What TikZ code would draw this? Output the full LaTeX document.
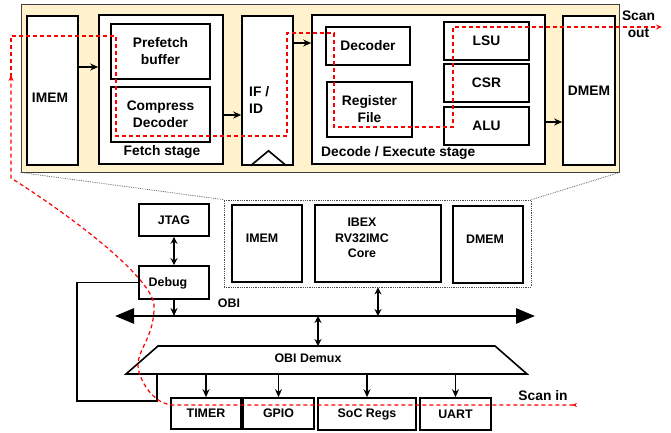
\documentclass[tikz,border=0pt]{standalone}
\usepackage{fontspec}
\setmainfont{Liberation Sans}
\usetikzlibrary{arrows.meta}
\definecolor{beige}{RGB}{255,242,204}
\definecolor{scanred}{RGB}{255,0,0}

\tikzset{
	blk/.style={draw, line width=1.6pt, fill=white, inner sep=0pt},
	sz/.style 2 args={minimum width=#1pt, minimum height=#2pt},
	bigtxt/.style={font=\bfseries\fontsize{13.8}{17}\selectfont, align=center},
	smalltxt/.style={font=\bfseries\fontsize{12.4}{15.5}\selectfont, align=center},
	conn/.style={line width=1.6pt, -{Stealth[length=8pt,width=7pt]}},
	biconn/.style={line width=1.6pt, {Stealth[length=7pt,width=7pt]}-{Stealth[length=7pt,width=7pt]}},
	bus/.style={line width=2.8pt, {Triangle[length=19pt,width=15pt]}-{Triangle[length=19pt,width=15pt]}},
	zoomline/.style={densely dotted, draw=black!60, line width=0.8pt},
	scan/.style={draw=scanred, line width=1.2pt, dash pattern=on 4pt off 3pt},
}

\begin{document}
\begin{tikzpicture}[x=1pt,y=-1pt]
	\useasboundingbox (0,0) rectangle (671,433);
	
	% pipeline of the core
	\node[draw=black!75, line width=1pt, fill=beige, sz={598}{167}] (pipe) at (320,88.5) {};
	
	\node[blk, sz={51}{149}] (imemA) at (52.5,90.5) {};
	\node[bigtxt] (imemAlbl) at (50,97.5) {IMEM};
	
	\node[blk, sz={124}{149}] (fetch) at (161,89.5) {};
	\node[bigtxt] (fetchlbl) at (162,152) {Fetch stage};
	\node[blk, bigtxt, sz={99}{55}] (pref) at (160.5,51.5) {Prefetch\\buffer};
	\node[blk, bigtxt, sz={99}{55}] (comp) at (160.5,114.5) {Compress\\Decoder};
	
	\node[blk, sz={51}{149}] (ifid) at (267.5,90.5) {};
	\node[bigtxt, align=left, anchor=west, inner sep=0pt] (ifidlbl) at (249,100) {IF /\\ID};
	\draw[line width=1.6pt] (ifid.south) ++(-17,0) -- ++(18,-15) -- ++(18,15);
	
	\node[blk, sz={233}{149}] (decex) at (428.5,89.5) {};
	\node[bigtxt, anchor=west, inner sep=0pt] (decexlbl) at (321,153) {Decode / Execute stage};
	\node[blk, bigtxt, sz={84}{38}] (dec) at (368,46) {Decoder};
	\node[blk, bigtxt, sz={85}{55}] (regf) at (369.5,109.5) {Register\\File};
	\node[blk, bigtxt, sz={85}{38}] (lsu) at (486.5,41) {LSU};
	\node[blk, bigtxt, sz={85}{38}] (csr) at (486.5,83) {CSR};
	\node[blk, bigtxt, sz={85}{38}] (alu) at (486.5,126) {ALU};
	
	\node[blk, bigtxt, sz={52}{149}] (dmemA) at (589,90.5) {DMEM};
	\node[bigtxt] (scanoutlbl) at (638.5,24.5) {Scan\\out};
	
	\draw[conn] (imemA.east |- 0,67) -- (fetch.west |- 0,67);
	\draw[conn] (fetch.east |- 0,115) -- (ifid.west |- 0,115);
	\draw[conn] (ifid.east |- 0,43) -- (decex.west |- 0,43);
	\draw[conn] (decex.east |- 0,122) -- (dmemA.west |- 0,122);
	
	% SoC
	\node[draw=black!70, densely dotted, line width=0.8pt, sz={307}{87}] (cpu) at (377.5,243.5) {};
	\draw[zoomline] (pipe.south west) -- (cpu.north west);
	\draw[zoomline] (pipe.south east) -- (cpu.north east);
	
	\node[blk, sz={70}{77}] (imemB) at (267,243.5) {};
	\node[smalltxt] (imemBlbl) at (262,238) {IMEM};
	\node[blk, sz={126}{77}] (core) at (378,243.5) {};
	\node[smalltxt] (corelbl) at (362,238) {IBEX\\RV32IMC\\Core};
	\node[blk, sz={70}{77}] (dmemB) at (488,244.5) {};
	\node[smalltxt] (dmemBlbl) at (485,239) {DMEM};
	
	\node[blk, smalltxt, sz={70}{32}] (jtag) at (174,220) {JTAG};
	\node[blk, sz={70}{33}] (debug) at (174,282.5) {};
	\node[smalltxt] (debuglbl) at (168,283) {Debug};
	
	\coordinate (obiL) at (115,316);
	\coordinate (obiR) at (535,316);
	\draw[bus] (obiL) -- (obiR);
	\node[smalltxt] (obilbl) at (229,303) {OBI};
	
	\draw[biconn] (jtag.south) -- (debug.north);
	\draw[conn] (debug.south) -- (debug.south |- obiL);
	\draw[biconn] (core.south |- cpu.south) -- (core.south |- obiL);
	
	% demux
	\coordinate (dmxTL) at (158,346);
	\coordinate (dmxTR) at (495,346);
	\coordinate (dmxBR) at (527,374);
	\coordinate (dmxBL) at (126,374);
	\draw[line width=1.6pt, fill=white] (dmxTL) -- (dmxTR) -- (dmxBR) -- (dmxBL) -- cycle;
	\node[smalltxt] (demux) at (308,358) {OBI Demux};
	\draw[biconn] (318,0 |- obiL) -- (318,0 |- dmxTL);
	
	\node[blk, smalltxt, sz={70}{31}] (timer) at (206,413.5) {TIMER};
	\node[blk, smalltxt, sz={71}{31}] (gpio) at (278.5,413.5) {GPIO};
	\node[blk, smalltxt, sz={98}{32}] (soc) at (367,414) {SoC Regs};
	\node[blk, smalltxt, sz={71}{32}] (uart) at (455.5,414) {UART};
	
	\foreach \b in {timer,gpio,soc,uart}
		\draw[conn] (\b.north |- dmxBL) -- (\b.north);
	
	\draw[line width=1.6pt] (debug.west) -| (77,401) -| (dmxBL -| 157,0);
	
	% scan chain
	\coordinate (scanin) at (577,405);
	\coordinate (scanout) at (662,27);
	\node[bigtxt] (scaninlbl) at (543,396) {Scan in};
	\draw[scan, {Stealth[reversed,length=5pt,width=4pt]}-{Stealth[length=6pt,width=5pt]}] (scanin) -- (173,405) .. controls (160,405) and (145,392) .. (139,372) .. controls (133,352) and (155,340) .. (154,305) .. controls (152,280) and (85,225) .. (11,178) -- (11,75);
	\draw[scan, -{Stealth[length=6pt,width=5pt]}] (11,77) -- (11,36) -- (116,36) -- (116,136) -- (287,136) -- (287,33) -- (334,33) -- (334,127) -- (453,127) -- (453,27) -- (scanout);
\end{tikzpicture}
\end{document}
